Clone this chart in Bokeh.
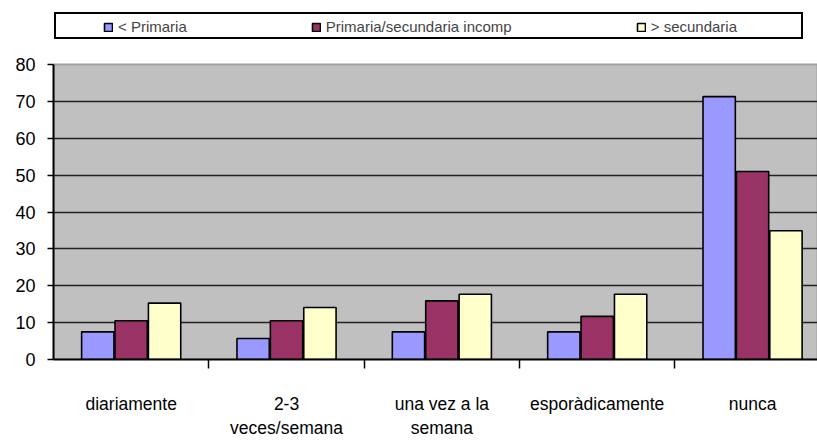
import numpy as np
from bokeh.plotting import figure
from bokeh.models import Range1d, FixedTicker, Legend, LegendItem, BoxAnnotation
from bokeh.embed import file_html
from bokeh.resources import INLINE

# ---- data ----
categories = ["diariamente", "2-3 veces/semana", "una vez a la semana",
              "esporàdicamente", "nunca"]
tick_labels = ["diariamente", "2-3\nveces/semana", "una vez a la\nsemana",
               "esporàdicamente", "nunca"]
series_names = ["< Primaria", "Primaria/secundaria incomp", "> secundaria"]
primaria = [7.5, 5.7, 7.5, 7.5, 71.3]
incompleta = [10.5, 10.5, 15.9, 11.7, 51.0]
secundaria = [15.3, 14.1, 17.7, 17.7, 34.9]
y_ticks = [0, 10, 20, 30, 40, 50, 60, 70, 80]

colors = ["#9999FF", "#993366", "#FFFFCC"]
series = [primaria, incompleta, secundaria]

FONT = "Liberation Sans"

# frame spans the whole canvas height above the x axis; the value axis covers 0..80
Y_MAX = y_ticks[-1]
FRAME_H, AREA_TOP = 359, 64
y_top = Y_MAX * FRAME_H / (FRAME_H - AREA_TOP)

p = figure(width=817, height=448, x_range=Range1d(0, 4.918), y_range=Range1d(0, y_top),
           output_backend="svg", toolbar_location=None,
           min_border_left=53, min_border_right=0, min_border_top=0, min_border_bottom=89,
           background_fill_color="white", border_fill_color="white")
p.outline_line_color = None

# grey plot area 0..80
area = BoxAnnotation(bottom=0, top=Y_MAX, fill_color="#C0C0C0", fill_alpha=1.0,
                     line_color="#a0a0a0", line_width=2, line_alpha=1.0, level="image")
p.add_layout(area)

centers = np.arange(len(categories)) + 0.5
offsets = [-0.215, 0.0, 0.215]
renderers = []
for vals, col, off in zip(series, colors, offsets):
    r = p.vbar(x=centers + off, top=vals, width=0.208, fill_color=col,
               line_color="black", line_width=1.6)
    renderers.append(r)

p.xgrid.visible = False
p.ygrid.ticker = FixedTicker(ticks=y_ticks[1:-1])
p.ygrid.grid_line_color = "#222222"
p.ygrid.grid_line_width = 1.7

p.yaxis.ticker = FixedTicker(ticks=y_ticks)
p.yaxis.bounds = (0, Y_MAX)
p.yaxis.axis_line_color = "black"
p.yaxis.axis_line_width = 2
p.yaxis.major_tick_out = 6
p.yaxis.major_tick_in = 0
p.yaxis.major_tick_line_width = 1.5
p.yaxis.minor_tick_line_color = None
p.yaxis.major_label_standoff = 12
p.yaxis.major_label_text_font = FONT
p.yaxis.major_label_text_font_size = "18px"
p.yaxis.major_label_text_color = "black"

p.xaxis.ticker = FixedTicker(ticks=[float(c) for c in centers],
                             minor_ticks=[float(c) for c in np.arange(1, len(categories))])
p.xaxis.major_label_overrides = {float(c): t for c, t in zip(centers, tick_labels)}
p.xaxis.major_tick_out = 0
p.xaxis.major_tick_in = 0
p.xaxis.major_tick_line_color = None
p.xaxis.minor_tick_out = 9
p.xaxis.minor_tick_in = 0
p.xaxis.minor_tick_line_color = "black"
p.xaxis.minor_tick_line_width = 1.5
p.xaxis.axis_line_color = "black"
p.xaxis.axis_line_width = 2
p.xaxis.major_label_standoff = 25
p.xaxis.major_label_text_font = FONT
p.xaxis.major_label_text_font_size = "17.5px"
p.xaxis.major_label_text_color = "black"

# ---- legend: a frame box plus the item row ----
blank = p.vbar(x=[], top=[], width=0.1, fill_alpha=0, line_alpha=0)
frame_box = Legend(items=[LegendItem(label=" ", renderers=[blank])],
                   location=(1, 320), padding=0, margin=0,
                   glyph_width=1, glyph_height=1, label_standoff=0,
                   label_width=744, label_height=23,
                   border_line_color="black", border_line_width=2, border_line_alpha=1.0,
                   background_fill_color="white", background_fill_alpha=1.0,
                   label_text_font_size="2px")
p.add_layout(frame_box)

legend = Legend(items=[LegendItem(label=n, renderers=[r]) for n, r in zip(series_names, renderers)],
                orientation="horizontal", location=(50, 324), padding=0, margin=0,
                spacing=124, glyph_width=10, glyph_height=10, label_standoff=5,
                label_height=16, border_line_alpha=0, background_fill_alpha=0,
                label_text_font=FONT, label_text_font_size="15px")
p.add_layout(legend)

open("out.html", "w").write(file_html(p, INLINE))
